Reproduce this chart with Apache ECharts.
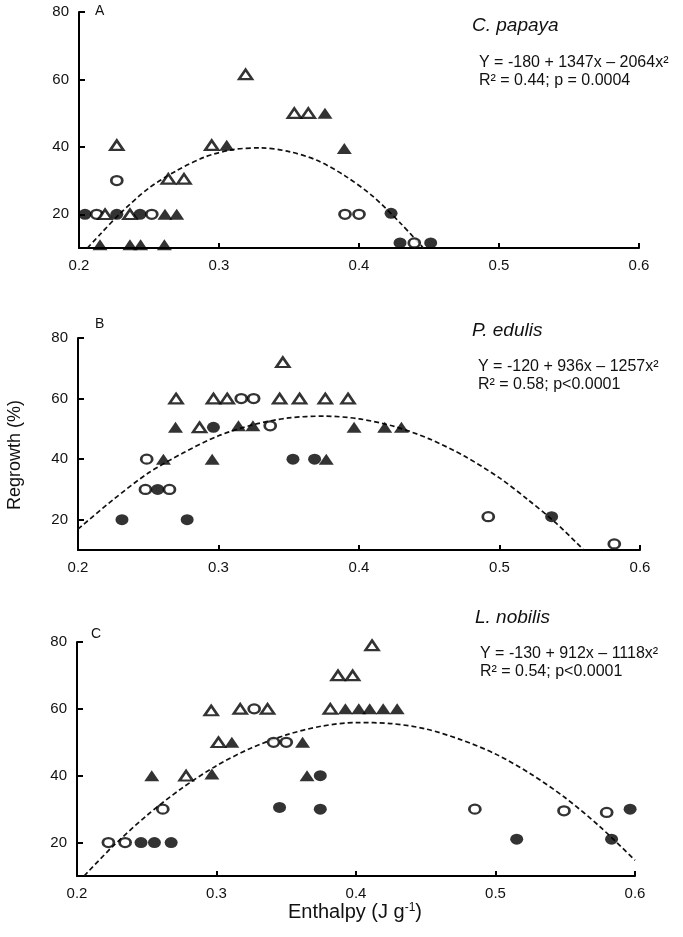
<!DOCTYPE html>
<html><head><meta charset="utf-8">
<script src="https://cdn.jsdelivr.net/npm/echarts@6/dist/echarts.min.js"></script>
<style>html,body{margin:0;padding:0;background:#fff}#c{width:683px;height:937px}</style>
</head><body><div id="c"></div>
<script>
// ---- Data ----
const xTicks = [0.2, 0.3, 0.4, 0.5, 0.6];
const yTicks = [20, 40, 60, 80];

// Panel A: C. papaya
const openCircleA = [[0.2126,20],[0.252,20],[0.227,30],[0.39,20],[0.40,20],[0.4395,11.5]];
const filledCircleA = [[0.2043,20],[0.227,20],[0.2436,20],[0.4229,20.3],[0.4293,11.5],[0.4512,11.5]];
const openTriA = [[0.2186,20],[0.2364,20],[0.2638,30.5],[0.275,30.5],[0.227,40.5],[0.2948,40.5],[0.319,61.5],[0.3538,50],[0.3638,50]];
const filledTriA = [[0.2614,20],[0.2698,20],[0.215,11],[0.2364,11],[0.244,11],[0.261,11],[0.3055,40.5],[0.3757,50],[0.3895,39.5]];
const fitA = [[0.206,10],[0.215,14],[0.23,20.5],[0.25,27.8],[0.27,33],[0.29,37],[0.31,39.2],[0.33,39.7],[0.35,38.6],[0.37,36],[0.39,31.4],[0.41,25.3],[0.43,17.2],[0.446,10]];

// Panel B: P. edulis
const openCircleB = [[0.3162,60],[0.325,60],[0.3368,51],[0.2489,40],[0.248,30],[0.2651,30],[0.492,21],[0.5817,12]];
const filledCircleB = [[0.2964,50.5],[0.353,40],[0.3684,40],[0.2567,30],[0.2313,20],[0.2777,20],[0.5371,21]];
const openTriB = [[0.3458,72],[0.2698,60],[0.2964,60],[0.3062,60],[0.3435,60],[0.3577,60],[0.376,60],[0.3922,60],[0.2865,50.5]];
const filledTriB = [[0.2694,50.5],[0.3142,51],[0.3245,51],[0.3965,50.5],[0.4183,50.5],[0.4302,50.5],[0.2608,40],[0.2955,40],[0.3767,40]];
const fitB = [[0.2,16.9],[0.225,26.6],[0.25,35.4],[0.275,42.1],[0.3,47.7],[0.325,51.4],[0.35,53.6],[0.375,54.2],[0.4,53.3],[0.425,50.8],[0.45,46.7],[0.475,41],[0.5,33.8],[0.52,26.7],[0.54,19],[0.56,10]];

// Panel C: L. nobilis
const openCircleC = [[0.327,60],[0.3409,50],[0.35,50],[0.2615,30],[0.4852,30],[0.5491,29.5],[0.5797,29],[0.2225,20],[0.2345,20]];
const filledCircleC = [[0.3744,40],[0.3452,30.5],[0.3744,30],[0.5965,30],[0.2459,20],[0.2555,20],[0.2675,20],[0.5152,21],[0.5832,21]];
const openTriC = [[0.4115,79],[0.3871,70],[0.3976,70],[0.2962,59.5],[0.317,60],[0.3366,60],[0.3816,60],[0.3014,50],[0.2782,40]];
const filledTriC = [[0.3924,60],[0.402,60],[0.4098,60],[0.4195,60],[0.4295,60],[0.311,50],[0.3617,50],[0.2536,40],[0.2967,40.5],[0.3649,40]];
const fitC = [[0.2051,10],[0.225,18.6],[0.25,28.1],[0.275,36.2],[0.3,43],[0.325,48.3],[0.35,52.2],[0.375,54.8],[0.4,55.9],[0.425,55.6],[0.45,54],[0.475,50.8],[0.5,46.5],[0.525,40.6],[0.55,33.4],[0.575,24.7],[0.6,14.7]];

const panelLetters = ['A','B','C'];
const species = ['C. papaya','P. edulis','L. nobilis'];
const eqLine1 = ['Y = -180 + 1347x – 2064x²','Y = -120 + 936x – 1257x²','Y = -130 + 912x – 1118x²'];
const eqLine2 = ['R² = 0.44; p = 0.0004','R² = 0.58; p<0.0001','R² = 0.54; p<0.0001'];

// ---- Layout ----
const FONT = '"Liberation Sans", Arial, sans-serif';
const grids = [
  {left:79, top:12, width:560, height:236},
  {left:78, top:338, width:562, height:212},
  {left:77, top:642, width:558, height:234}
];
const panels = [
  [openCircleA, filledCircleA, openTriA, filledTriA, fitA],
  [openCircleB, filledCircleB, openTriB, filledTriB, fitB],
  [openCircleC, filledCircleC, openTriC, filledTriC, fitC]
];

const axisLine = {show:true, onZero:false, lineStyle:{color:'#000', width:2}};
const xAxes = [], yAxes = [], series = [];
grids.forEach((g, i) => {
  xAxes.push({type:'value', gridIndex:i, min:0.2, max:0.6, interval:0.1,
    axisLine, splitLine:{show:false},
    axisTick:{show:true, inside:true, length:5, lineStyle:{color:'#000', width:2}},
    axisLabel:{color:'#111', fontSize:15, fontFamily:FONT, margin:10, formatter:v=>v.toFixed(1)}
  });
  yAxes.push({type:'value', gridIndex:i, min:10, max:80,
    axisLine, splitLine:{show:false},
    axisTick:{show:true, inside:true, length:6, customValues:yTicks, lineStyle:{color:'#000', width:2}},
    axisLabel:{color:'#111', fontSize:15, fontFamily:FONT, margin:10, customValues:yTicks}
  });
  const [oc, fc, ot, ft, fit] = panels[i];
  series.push({type:'line', xAxisIndex:i, yAxisIndex:i, data:fit, smooth:0.3, symbol:'none',
    lineStyle:{color:'#111', width:1.7, type:[5,3]}, z:1, silent:true});
  series.push({type:'scatter', xAxisIndex:i, yAxisIndex:i, data:fc, symbol:'circle', symbolSize:[13,11],
    itemStyle:{color:'#000'}, z:2});
  series.push({type:'scatter', xAxisIndex:i, yAxisIndex:i, data:ft, symbol:'triangle', symbolSize:[15,11],
    itemStyle:{color:'#000'}, z:2});
  series.push({type:'scatter', xAxisIndex:i, yAxisIndex:i, data:oc, symbol:'circle', symbolSize:[11,9],
    itemStyle:{color:'#fff', borderColor:'#000', borderWidth:2.5}, z:3});
  series.push({type:'scatter', xAxisIndex:i, yAxisIndex:i, data:ot, symbol:'triangle', symbolSize:[13,9.5],
    itemStyle:{color:'#fff', borderColor:'#000', borderWidth:2.5}, z:3});
});

const letterPos = [[95,4],[95,317],[91,627]];
const speciesPos = [[472,16],[472,321],[475,608]];
const eqPos = [[479,54],[478,358],[480,645]];
const graphic = [];
for (let i = 0; i < 3; i++) {
  graphic.push({type:'text', left:letterPos[i][0], top:letterPos[i][1],
    style:{text:panelLetters[i], font:'14px '+FONT, fill:'#111'}});
  graphic.push({type:'text', left:speciesPos[i][0], top:speciesPos[i][1],
    style:{text:species[i], font:'italic 19px '+FONT, fill:'#111'}});
  graphic.push({type:'text', left:eqPos[i][0], top:eqPos[i][1],
    style:{text:eqLine1[i] + '\n' + eqLine2[i], font:'16px '+FONT, fill:'#111', lineHeight:18}});
}
graphic.push({type:'text', x:15, y:455, rotation:Math.PI/2,
  style:{text:'Regrowth (%)', font:'18px '+FONT, fill:'#111', align:'center', verticalAlign:'middle'}});
graphic.push({type:'text', x:355, y:912,
  style:{text:'Enthalpy (J g{sup|-1})', align:'center', verticalAlign:'middle',
    rich:{sup:{fontSize:12, fontFamily:FONT, fill:'#111', verticalAlign:'top', padding:[0,0,9,0]}},
    font:'20px '+FONT, fill:'#111'}});

const chart = echarts.init(document.getElementById('c'), null, {renderer:'canvas'});
chart.setOption({
  animation:false,
  backgroundColor:'#fff',
  grid: grids,
  xAxis: xAxes,
  yAxis: yAxes,
  series: series,
  graphic: graphic
});
</script></body></html>
